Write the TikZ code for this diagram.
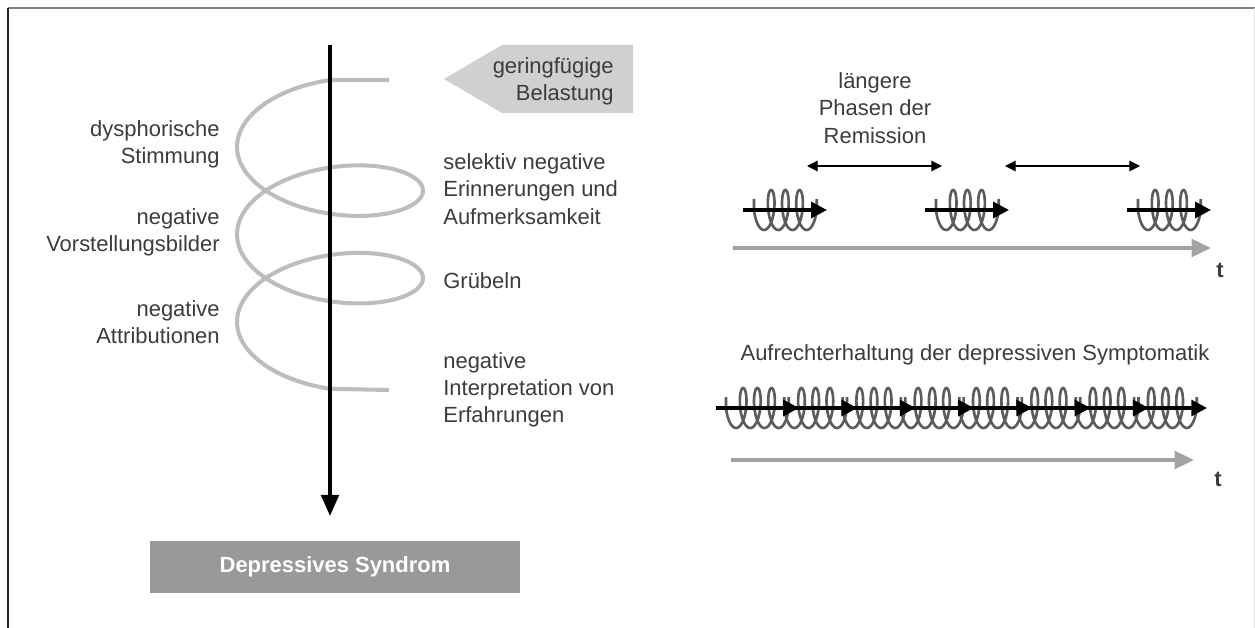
\documentclass[tikz,border=0pt]{standalone}
\usepackage{fontspec}
\setmainfont{Liberation Sans}
\usetikzlibrary{arrows.meta,positioning}
\definecolor{txtgray}{HTML}{3C3C3C}
\definecolor{helixgray}{HTML}{BDBDBD}
\definecolor{coilgray}{HTML}{5C5C5C}
\definecolor{axisgray}{HTML}{A3A3A3}
\definecolor{boxgray}{HTML}{999999}
\definecolor{taggray}{HTML}{D0D0D0}

\tikzset{
  lbl/.style={text=txtgray, font=\fontsize{12.5}{15.5}\selectfont, inner sep=0pt},
  coilline/.style={coilgray, line width=1.5pt},
  runarrow/.style={black, line width=2pt, -{Triangle[length=9pt,width=9pt]}},
  timeaxis/.style={axisgray, line width=2.2pt, -{Triangle[length=11pt,width=10pt]}},
  remarrow/.style={black, line width=0.6pt, {Triangle[length=6pt,width=6pt]}-{Triangle[length=6pt,width=6pt]}}
}

% one small coil, starting at (#1,#2)
\newcommand{\minicoil}[2]{%
  \draw[coilline] (#1,#2-11) -- (#1,#2) -- plot[domain=0:1260,samples=140]
    ({#1+6.5+0.03944*\x-6.5*cos(\x)},{#2+20*sin(\x)}) -- ++(0,-11);
}

\begin{document}
\begin{tikzpicture}[x=0.02cm,y=-0.02cm]
\useasboundingbox (0,0) rectangle (1255,628);
\draw[gray, line width=0.8pt] (8,8) -- (1255,8);
\draw[black!85, line width=0.8pt] (8,8) -- (8,628);
\draw[black!12, line width=0.5pt] (1254,8) -- (1254,628);

% big spiral
\draw[helixgray, line width=2.3pt] (389,80) -- plot[domain=0:900,samples=220]
  ({330-93*sin(\x)},{125+0.2431*\x-45*cos(\x)}) -- (389,390);
\coordinate (top) at (330,45);
\coordinate (bottom) at (330,516);
\draw[black, line width=2pt, -{Triangle[length=12pt,width=10pt]}] (top) -- (bottom);

\node[fill=boxgray, minimum width=7.4cm, minimum height=1.04cm, text=white,
  font=\fontsize{12.5}{15}\selectfont\bfseries] (syndrom) at (335,567) {Depressives Syndrom};

% small load
\fill[taggray] (444,79) -- (502,45) -- (633,45) -- (633,113) -- (502,113) -- cycle;
\node[lbl, align=right, anchor=east] (load) at (614,81) {geringfügige\\Belastung};

\node[lbl, align=right, anchor=east] (mood) at (220,144) {dysphorische\\Stimmung};
\node[lbl, align=right, anchor=east] (images) at (220,232) {negative\\Vorstellungsbilder};
\node[lbl, align=right, anchor=east] (attrib) at (220,322) {negative\\Attributionen};

\node[lbl, align=left, anchor=west] (memory) at (443,189) {selektiv negative\\Erinnerungen und\\Aufmerksamkeit};
\node[lbl, align=left, anchor=west] (rumin) at (443,281) {Grübeln};
\node[lbl, align=left, anchor=west] (interp) at (443,390) {negative\\Interpretation von\\Erfahrungen};

% episodes with remission
\node[lbl, align=center] (remission) at (875,108) {längere\\Phasen der\\Remission};
\coordinate (r1a) at (807,166);
\coordinate (r1b) at (942,166);
\coordinate (r2a) at (1005,166);
\coordinate (r2b) at (1140,166);
\draw[remarrow] (r1a) -- (r1b);
\draw[remarrow] (r2a) -- (r2b);
\foreach \xs in {754,936,1138}{
  \minicoil{\xs}{210}
  \draw[runarrow] (\xs-11,210) -- (\xs+73,210);
}
\coordinate (t1a) at (733,248);
\coordinate (t1b) at (1211,248);
\draw[timeaxis] (t1a) -- (t1b);
\node[lbl, font=\fontsize{12.5}{15}\selectfont\bfseries] (t1) at (1220,270) {t};

% chronic course
\node[lbl] (chronic) at (975,355) {Aufrechterhaltung der depressiven Symptomatik};
\foreach \i in {0,...,7}{
  \minicoil{726+58.3*\i}{408}
}
\foreach \i in {0,...,7}{
  \draw[runarrow] (716+58.3*\i,408) -- (799+58.3*\i,408);
}
\coordinate (t2a) at (731,460);
\coordinate (t2b) at (1194,460);
\draw[timeaxis] (t2a) -- (t2b);
\node[lbl, font=\fontsize{12.5}{15}\selectfont\bfseries] (t2) at (1218,479) {t};
\end{tikzpicture}
\end{document}
